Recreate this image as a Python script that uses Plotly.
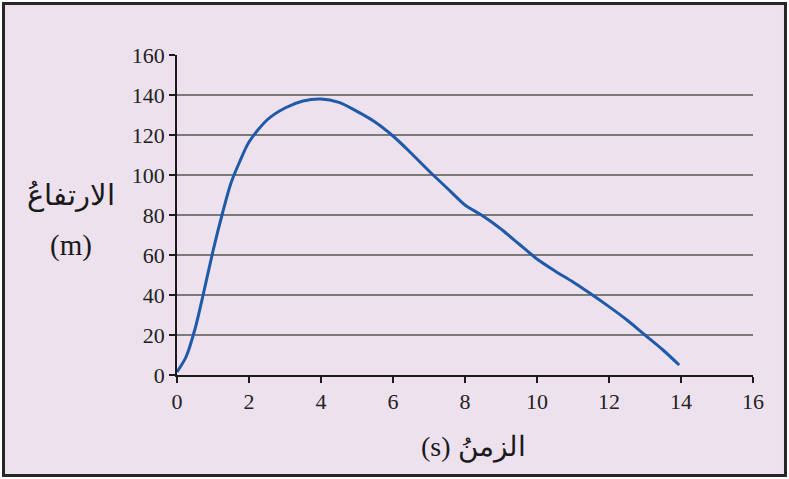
import plotly.graph_objects as go

# time (s) and height (m)
time_s = [0, 0.25, 0.5, 0.75, 1.0, 1.25, 1.5, 1.75, 2.0, 2.5, 3.0, 3.5, 4.0, 4.5, 5.0, 5.5, 6.0, 6.5, 7.0,
          7.5, 8.0, 8.5, 9.0, 9.5, 10.0, 10.5, 11.0, 11.5, 12.0, 12.5, 13.0, 13.5, 13.95]
height_m = [1.5, 9, 23, 42, 62, 80, 96, 107, 116.5, 127.5, 133.5, 137, 138, 136.3, 131.8, 126.5, 119.5, 111, 102,
            93.5, 85, 79.5, 73, 65.5, 58, 52, 46.5, 40.5, 34.2, 27.5, 20, 12.5, 5]

x_ticks = list(range(0, 17, 2))
y_ticks = list(range(0, 161, 20))

bg = "#EDE1EE"
serif = "Liberation Serif, Times New Roman, serif"
ink = "#1a1a1a"

fig = go.Figure()
fig.add_trace(go.Scatter(
    x=time_s, y=height_m, mode="lines",
    line=dict(color="#1F5AA8", width=3, shape="spline", smoothing=0.8),
    hoverinfo="skip", showlegend=False,
))

# framed lavender panel behind everything
fig.add_shape(type="rect", xref="paper", yref="paper",
              x0=-0.3012, x1=1.0564, y0=-0.3141, y1=1.1609,
              fillcolor=bg, line=dict(color="#262626", width=3), layer="below")

fig.add_annotation(text="الارتفاعُ", xref="paper", yref="paper", x=-0.184, y=0.56,
                   xanchor="center", yanchor="middle", showarrow=False,
                   font=dict(family=serif, size=29, color=ink))
fig.add_annotation(text="(m)", xref="paper", yref="paper", x=-0.184, y=0.405,
                   xanchor="center", yanchor="middle", showarrow=False,
                   font=dict(family=serif, size=29, color=ink))
fig.add_annotation(text="(s) الزمنُ", xref="paper", yref="paper", x=0.514, y=-0.225,
                   xanchor="center", yanchor="middle", showarrow=False,
                   font=dict(family=serif, size=28, color=ink))

fig.update_xaxes(range=[0, 16], tickvals=x_ticks, showgrid=False, zeroline=False,
                 showline=True, linecolor=ink, linewidth=1.5,
                 ticks="outside", ticklen=6, tickcolor=ink, tickwidth=1.5,
                 tickfont=dict(family=serif, size=22, color="#222"), fixedrange=True)
fig.update_yaxes(range=[0, 160], tickvals=y_ticks, showgrid=True, gridcolor="#7a7a7a",
                 gridwidth=1.5, zeroline=False,
                 showline=True, linecolor=ink, linewidth=1.5,
                 ticks="outside", ticklen=6, tickcolor=ink, tickwidth=1.5,
                 tickfont=dict(family=serif, size=22, color="#222"), fixedrange=True)

fig.update_layout(
    width=789, height=479,
    margin=dict(l=177, r=36, t=55, b=104),
    paper_bgcolor="white", plot_bgcolor="rgba(0,0,0,0)",
)

fig.write_html("out.html", config={"displayModeBar": False},
               post_script="document.body.style.margin='0';")
